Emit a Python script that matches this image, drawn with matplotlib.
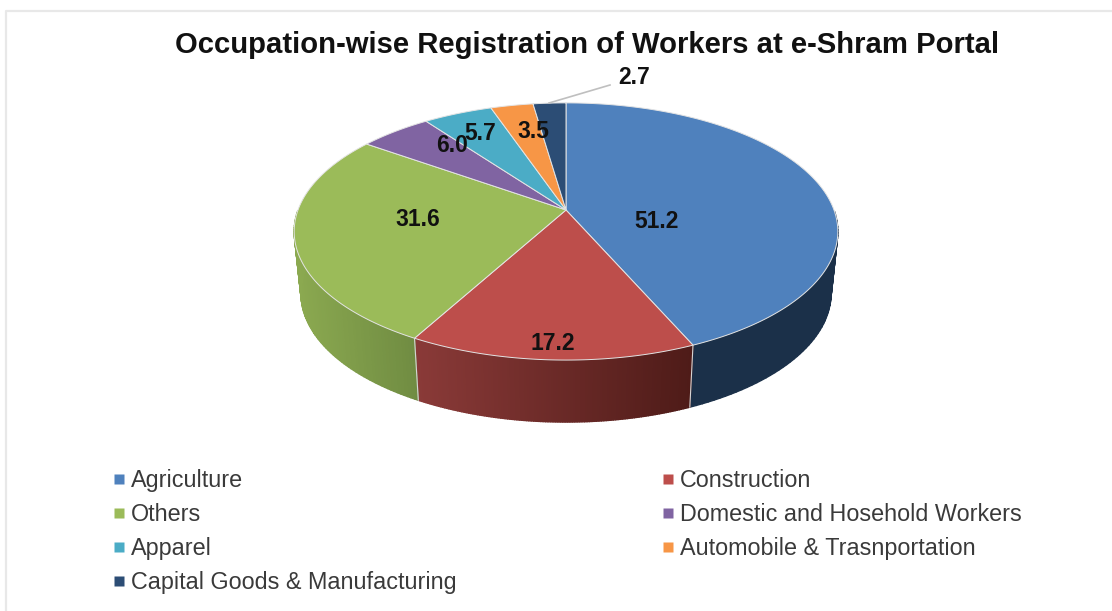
import numpy as np
import matplotlib
matplotlib.use('Agg')
import matplotlib.pyplot as plt
from matplotlib.lines import Line2D

plt.rcParams['font.family'] = ['Liberation Sans', 'DejaVu Sans']

categories = ['Agriculture', 'Construction', 'Others', 'Domestic and Hosehold Workers',
              'Apparel', 'Automobile & Trasnportation', 'Capital Goods & Manufacturing']
values = [51.2, 17.2, 31.6, 6.0, 5.7, 3.5, 2.7]
colors = ['#4F81BD', '#BD4E4B', '#9BBB59', '#8064A2', '#4BACC6', '#F79646', '#2C4D75']
# side wall shade, left end and right end, only the first three slices show a wall
side_left = ['#1B3049', '#8A3A38', '#8BA950']
side_right = ['#1B3049', '#4E1B18', '#708C42']
label_pos = [(657, 222), (553, 343), (418, 219), (452, 146), (480, 133), (533, 131), (634, 78)]

title = 'Occupation-wise Registration of Workers at e-Shram Portal'

# pie geometry in pixels
cx, cy = 566, 210
rx, ry = 268, 125
persp = 0.167
depth = 62
base_shrink = 0.975


def project(theta):
    # clockwise from 12 o'clock, far side squeezed a bit
    u, v = np.sin(theta), np.cos(theta)
    s = 1 / (1 + persp * v)
    return cx + rx * u * s, cy - ry * v * s


def project_base(theta):
    x, y = project(theta)
    return cx + (x - cx) * base_shrink, y + depth


def mix(c1, c2, t):
    a, b = np.array(matplotlib.colors.to_rgb(c1)), np.array(matplotlib.colors.to_rgb(c2))
    return a + (b - a) * t


fig = plt.figure(figsize=(11.12, 6.11), dpi=100)
ax = fig.add_axes([0, 0, 1, 1])
ax.set_xlim(0, 1112)
ax.set_ylim(611, 0)
ax.axis('off')

# frame of the pasted picture
ax.plot([6, 6, 1112], [611, 11, 11], color='#E8E8E8', lw=1.6)

edges = np.cumsum([0] + values) / sum(values) * 2 * np.pi

# side walls first, front part only
for i in range(len(side_left)):
    t = np.linspace(edges[i], edges[i + 1], 120)
    t = t[np.cos(t) < 0]
    xs = project(t)[0]
    xmin, xmax = xs.min(), xs.max()
    for a, b in zip(t[:-1], t[1:]):
        x1, y1 = project(a)
        x2, y2 = project(b)
        x3, y3 = project_base(b)
        x4, y4 = project_base(a)
        f = ((x1 + x2) / 2 - xmin) / max(xmax - xmin, 1)
        c = mix(side_left[i], side_right[i], f)
        ax.fill([x1, x2, x3, x4], [y1, y2, y3, y4], color=c, lw=1.0, zorder=2)

# seams between the walls
for e in edges[1:3]:
    x1, y1 = project(e)
    x2, y2 = project_base(e)
    ax.plot([x1, x2], [y1, y2], color='#D5D5D5', lw=0.8, zorder=3)

# top face
for i in range(len(values)):
    t = np.linspace(edges[i], edges[i + 1], 200)
    x, y = project(t)
    ax.fill(np.r_[cx, x], np.r_[cy, y], facecolor=colors[i], edgecolor='#E4E4E4', lw=0.7, zorder=4)

for v, (lx, ly) in zip(values, label_pos):
    ax.text(lx, ly, f'{v:.1f}', ha='center', va='center', fontsize=16.5, fontweight='bold',
            color='#111111', zorder=6)

# leader line for the smallest slice
ax.plot([610, 549], [85, 103], color='#BFBFBF', lw=1.2, zorder=5)

ax.text(587, 45, title, ha='center', va='center', fontsize=21.1, fontweight='bold', color='#111111')

order = [0, 2, 4, 6, 1, 3, 5]
handles = [Line2D([], [], ls='none', marker='s', ms=6.7, mfc=colors[i], mec='none') for i in order]
labels = [categories[i] for i in order]
ax.legend(handles, labels, ncol=2, frameon=False, fontsize=16.8, labelcolor='#3A3A3A',
          loc='upper left', bbox_to_anchor=(113 / 1112, 1 - 469 / 611), bbox_transform=fig.transFigure,
          borderaxespad=0, borderpad=0, labelspacing=0.476, handlelength=0.5, handletextpad=0.27,
          columnspacing=8.8)

fig.savefig('out.png', dpi=100)
